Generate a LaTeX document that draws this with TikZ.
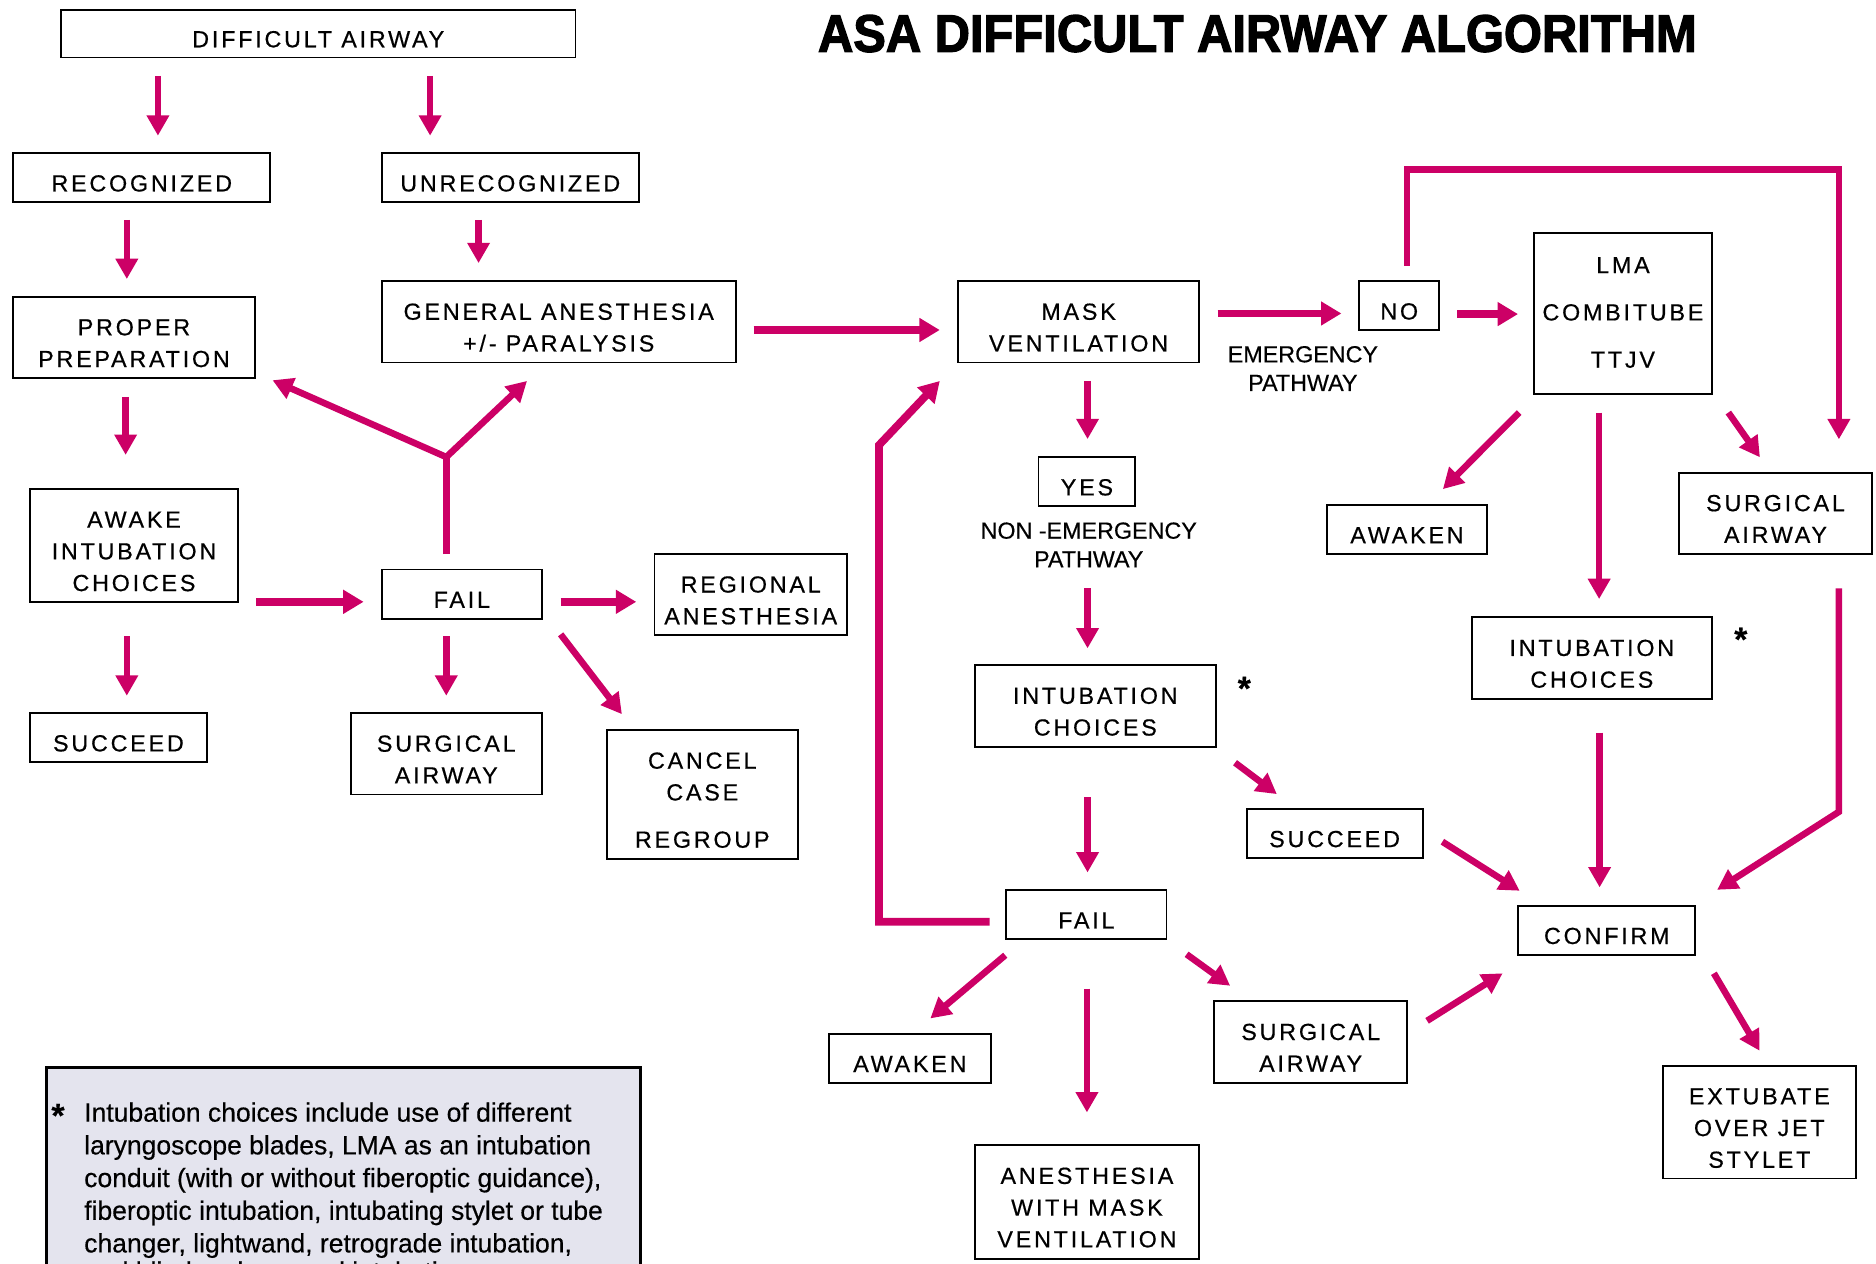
\documentclass[tikz,border=0pt]{standalone}
\usepackage{fontspec}
\usepackage{graphicx}
\setmainfont{Liberation Sans}
\newfontfamily\bxfont{Liberation Sans}[LetterSpace=12,FakeBold=0.5]
\newfontfamily\lbfont{Liberation Sans}[FakeBold=0.4]
\newfontfamily\ttlfont{Liberation Sans}[FakeBold=2.5]
\usetikzlibrary{arrows.meta}
\definecolor{mag}{RGB}{204,0,102}
\definecolor{notefill}{RGB}{228,228,238}
\newcommand\bt[2][-0.062cm]{\raisebox{#1}[\height][\depth]{\begin{tabular}{@{}c@{}}#2\end{tabular}}}
\newcommand\bx[6]{\node[bx, minimum width={(#4-#2)*0.01cm}, minimum height={(#5-#3)*0.01cm}] (#1) at ({(#2+#4)/2},{(#3+#5)/2}) {#6};}
\begin{document}
\begin{tikzpicture}[x=0.01cm,y=-0.01cm,
  bx/.style={draw=black, line width=0.45pt, fill=white, inner sep=0pt, font=\bxfont\fontsize{5.54pt}{7.54pt}\selectfont},
  arr/.style={draw=mag, line width=0.055cm, -{Triangle[length=0.17cm,width=0.18cm]}},
  arrh/.style={draw=mag, line width=0.065cm, -{Triangle[length=0.17cm,width=0.19cm]}},
  ln/.style={draw=mag, line width=0.055cm},
  lbl/.style={align=center, inner sep=0pt, font=\lbfont\fontsize{5.54pt}{6.8pt}\selectfont},
  astk/.style={inner sep=0pt, font=\lbfont\bfseries\fontsize{8pt}{8pt}\selectfont},
  notebox/.style={draw=black, line width=0.6pt, fill=notefill, inner sep=0pt},
  notetxt/.style={inner sep=0pt, font=\lbfont\fontsize{6.3pt}{7.77pt}\selectfont}]
\useasboundingbox (0,0) rectangle (1568,1056);
\clip (0,0) rectangle (1568,1056);
\fill[white] (0,0) rectangle (1568,1056);

% title
\node[anchor=base west, inner sep=0pt] (title) at (683,43.2)
  {\resizebox{7.34cm}{0.307cm}{\fontsize{12pt}{14pt}\ttlfont\bfseries ASA DIFFICULT AIRWAY ALGORITHM}};

% boxes
\bx{da}{51}{8}{481}{48}{\bt{DIFFICULT AIRWAY}}
\bx{rec}{11}{128}{226}{169}{\bt{RECOGNIZED}}
\bx{unrec}{319}{128}{534}{169}{\bt{UNRECOGNIZED}}
\bx{pp}{11}{248}{213}{316}{\bt{PROPER\\PREPARATION}}
\bx{ga}{319}{235}{615}{303}{\bt{GENERAL ANESTHESIA\\+/- PARALYSIS}}
\bx{mask}{801}{235}{1002}{303}{\bt{MASK\\VENTILATION}}
\bx{no}{1136}{235}{1203}{276}{\bt{NO}}
\bx{lma}{1282}{195}{1431}{329}{\bt[-0.005cm]{LMA\\[3.7pt]COMBITUBE\\[3.7pt]TTJV}}
\bx{awake}{25}{409}{199}{503}{\bt{AWAKE\\INTUBATION\\CHOICES}}
\bx{failL}{319}{476}{453}{517}{\bt{FAIL}}
\bx{reg}{547}{463}{708}{531}{\bt{REGIONAL\\ANESTHESIA}}
\bx{succL}{25}{596}{173}{637}{\bt{SUCCEED}}
\bx{surgL}{293}{596}{453}{664}{\bt{SURGICAL\\AIRWAY}}
\bx{cancel}{507}{610}{667}{718}{\bt{CANCEL\\CASE\\[3.7pt]REGROUP}}
\bx{yes}{868}{382}{949}{423}{\bt{YES}}
\bx{awakenR}{1109}{422}{1243}{463}{\bt{AWAKEN}}
\bx{surgR}{1403}{395}{1565}{463}{\bt{SURGICAL\\AIRWAY}}
\bx{icR}{1230}{516}{1431}{584}{\bt{INTUBATION\\CHOICES}}
\bx{icM}{815}{556}{1016}{624}{\bt{INTUBATION\\CHOICES}}
\bx{succM}{1042}{676}{1189}{717}{\bt{SUCCEED}}
\bx{confirm}{1269}{757}{1417}{798}{\bt{CONFIRM}}
\bx{failM}{841}{744}{975}{785}{\bt{FAIL}}
\bx{awakenB}{693}{864}{828}{905}{\bt{AWAKEN}}
\bx{surgB}{1015}{837}{1176}{905}{\bt{SURGICAL\\AIRWAY}}
\bx{anesth}{815}{957}{1002}{1052}{\bt{ANESTHESIA\\WITH MASK\\VENTILATION}}
\bx{extub}{1390}{891}{1551}{985}{\bt{EXTUBATE\\OVER JET\\STYLET}}

% labels and stars
\node[lbl] (emg) at (1089,308) {EMERGENCY\\PATHWAY};
\node[lbl] (nonemg) at (910,455.4) {NON -EMERGENCY\\PATHWAY};
\node[astk, anchor=base] (starM) at (1040,585) {*};
\node[astk, anchor=base] (starR) at (1455,544) {*};

% note
\node[notebox, anchor=north west, minimum width=4.96cm, minimum height=2cm] (note) at (38,891) {};
\node[astk, anchor=base] (nstar) at (48.5,942) {*};
\node[notetxt, anchor=base west] (ntext) at (69.7,937.5) {\begin{tabular}[t]{@{}l@{}}
Intubation choices include use of different\\
laryngoscope blades, LMA as an intubation\\
conduit (with or without fiberoptic guidance),\\
fiberoptic intubation, intubating stylet or tube\\
changer, lightwand, retrograde intubation,\\[-1.1pt]
and blind oral or nasal intubation.
\end{tabular}};

% connectors - left part
\draw[arr, shorten <=0.147cm, shorten >=0.138cm] (da.south -| 132,0) -- (rec.north -| 132,0);
\draw[arr, shorten <=0.147cm, shorten >=0.138cm] (da.south -| 359.5,0) -- (unrec.north -| 359.5,0);
\draw[arr, shorten <=0.14cm, shorten >=0.14cm] (rec.south -| 106,0) -- (pp.north -| 106,0);
\draw[arr, shorten <=0.14cm, shorten >=0.143cm] (unrec.south -| 400,0) -- (ga.north -| 400,0);
\draw[arr, shorten <=0.15cm, shorten >=0.28cm] (pp.south -| 105,0) -- (awake.north -| 105,0);
\draw[arr, shorten <=0.28cm, shorten >=0.137cm] (awake.south -| 106,0) -- (succL.north -| 106,0);
\draw[arrh, shorten <=0.145cm, shorten >=0.143cm] (awake.east |- 0,503) -- (failL.west |- 0,503);
\draw[arrh, shorten <=0.148cm, shorten >=0.144cm] (failL.east |- 0,503) -- (reg.west |- 0,503);
\draw[arr, shorten <=0.138cm, shorten >=0.137cm] (failL.south -| 373,0) -- (surgL.north -| 373,0);
\draw[arr] ([shift={(14.8,12.4)}]failL.south east) -- ([shift={(13.6,-12.3)}]cancel.north west);
\coordinate (jn) at (373,382);
\draw[ln, shorten <=0.12cm] (failL.north -| jn) -- (jn);
\draw[arr] (jn) -- ([shift={(14,1)}]pp.south east);
\draw[arr] (jn) -- ([shift={(-26.5,14.6)}]ga.south);
\draw[arrh, shorten <=0.14cm, shorten >=0.147cm] (ga.east |- 0,275.8) -- (mask.west |- 0,275.8);

% connectors - middle
\draw[arrh, shorten <=0.15cm, shorten >=0.14cm] (mask.east |- 0,262) -- (no.west |- 0,262);
\draw[arrh, shorten <=0.143cm, shorten >=0.124cm] (no.east |- 0,262.5) -- (lma.west |- 0,262.5);
\draw[arr, shorten <=0.12cm, shorten >=0.27cm] (no.north -| 1176,0) |- (1537,141.5) -- (surgR.north -| 1537,0);
\draw[arr, shorten <=0.146cm, shorten >=0.142cm] (mask.south -| 909,0) -- (yes.north -| 909,0);
\draw[arr, shorten <=0.68cm, shorten >=0.133cm] (yes.south -| 909,0) -- (icM.north -| 909,0);
\draw[arr] ([shift={(15.5,12.7)}]icM.south east) -- ([shift={(26,-11.5)}]succM.north west);
\draw[arr, shorten <=0.414cm, shorten >=0.14cm] (icM.south -| 909,0) -- (failM.north -| 909,0);
\draw[arrh, shorten <=0.13cm] (failM.west |- 0,770.4) -| (734.7,372) -- ([shift={(-14.7,14.6)}]mask.south west);
\draw[arr] ([shift={(0,12.6)}]failM.south west) -- ([shift={(17.1,-12)}]awakenB.north);
\draw[arr, shorten <=0.405cm, shorten >=0.264cm] (failM.south -| 908.5,0) -- (anesth.north -| 908.5,0);
\draw[arr] ([shift={(16,11.8)}]failM.south east) -- ([shift={(14,-12.3)}]surgB.north west);

% connectors - right
\draw[arr] ([shift={(16,17)}]surgB.north east) -- ([shift={(-12.3,14.7)}]confirm.south west);
\draw[arr] ([shift={(15.8,7)}]succM.east) -- ([shift={(2,-11.7)}]confirm.north west);
\draw[arr, shorten <=0.276cm, shorten >=0.145cm] (icR.south -| 1337,0) -- (confirm.north -| 1337,0);
\draw[arr, shorten <=0.28cm] (surgR.south -| 1537,0) -- (1537,678.5) -- ([shift={(17.4,-12.5)}]confirm.north east);
\draw[arr] ([shift={(14.7,14.7)}]confirm.south east) -- ([shift={(0.2,-12)}]extub.north);
\draw[arr] ([shift={(-11.5,15)}]lma.south west) -- ([shift={(30,-12.4)}]awakenR.north);
\draw[arr, shorten <=0.15cm, shorten >=0.145cm] (lma.south -| 1336.6,0) -- (icR.north -| 1336.6,0);
\draw[arr] ([shift={(12.8,15)}]lma.south east) -- ([shift={(-13,-12)}]surgR.north);
\end{tikzpicture}
\end{document}
